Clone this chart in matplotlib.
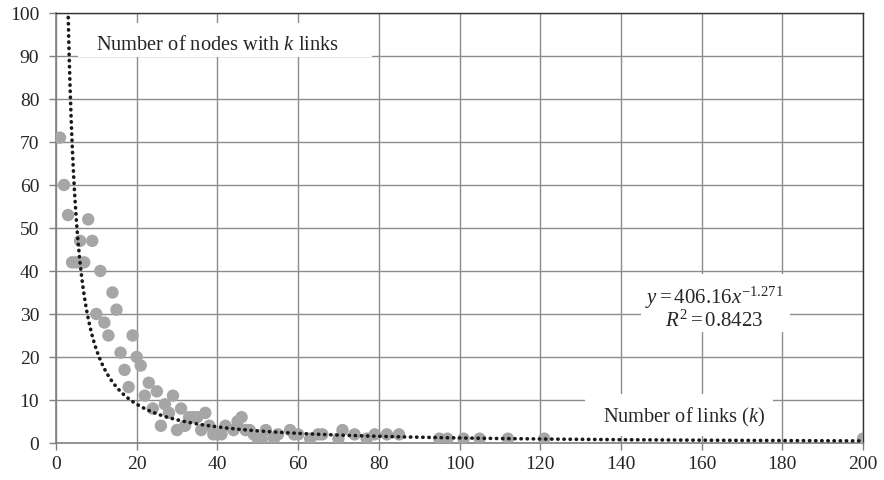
import matplotlib
matplotlib.use('Agg')
import matplotlib.pyplot as plt
import numpy as np

plt.rcParams['font.family'] = ['Liberation Serif', 'DejaVu Serif']
plt.rcParams['mathtext.fontset'] = 'custom'
plt.rcParams['mathtext.rm'] = 'Liberation Serif'
plt.rcParams['mathtext.it'] = 'Liberation Serif:italic'

# number of links k and number of nodes with k links
links = [1, 2, 3, 4, 5, 6, 7, 8, 9, 10, 11, 12, 13, 14, 15, 16, 17, 18, 19, 20,
         21, 22, 23, 24, 25, 26, 27, 28, 29, 30, 31, 32, 33, 34, 35, 36, 37, 38, 39, 40,
         41, 42, 44, 45, 46, 47, 48, 49, 50, 51, 52, 54, 55, 58, 59, 60, 63, 65, 66, 70,
         71, 74, 77, 79, 82, 85, 95, 97, 101, 105, 112, 121, 200]
nodes = [71, 60, 53, 42, 42, 47, 42, 52, 47, 30, 40, 28, 25, 35, 31, 21, 17, 13, 25, 20,
         18, 11, 14, 8, 12, 4, 9, 7, 11, 3, 8, 4, 6, 6, 6, 3, 7, 4, 2, 2,
         2, 4, 3, 5, 6, 3, 3, 2, 1, 1, 3, 1, 2, 3, 2, 2, 1, 2, 2, 1,
         3, 2, 1, 2, 2, 2, 1, 1, 1, 1, 1, 1, 1]

# power-law trend line y = a * x^b
coef_a = 406.16
coef_b = -1.271
r2 = 0.8423

fig = plt.figure(figsize=(8.84, 4.81), dpi=100)
ax = fig.add_axes([0.0633, 0.077, 0.913, 0.894])

ax.scatter(links, nodes, s=80, color='#a6a6a6', edgecolors='none', zorder=3)

xt = np.linspace(1, 200, 2000)
ax.plot(xt, coef_a * xt ** coef_b, color='#1a1a1a', linestyle=(0, (0.1, 1.6)),
        linewidth=2.6, dash_capstyle='round', zorder=4)

ax.set_xlim(0, 200)
ax.set_ylim(0, 100)
ax.set_xticks(np.arange(0, 201, 20))
ax.set_yticks(np.arange(0, 101, 10))
ax.grid(True, color='#8c8c8c', linewidth=1.0)
ax.set_axisbelow(True)
ax.tick_params(direction='out', length=5, width=1, color='#808080',
               labelsize=14, labelcolor='#262626')
ax.tick_params(axis='y', pad=7)
ax.tick_params(axis='x', pad=4)
for side in ['left', 'bottom']:
    ax.spines[side].set_color('#808080')
    ax.spines[side].set_linewidth(1.2)
for side in ['top', 'right']:
    ax.spines[side].set_color('#333333')
    ax.spines[side].set_linewidth(1.0)

# white boxes behind the labels (they hide the grid)
for x0, x1, y0, y1 in [(5.4, 78.3, 89.8, 97.7), (131.1, 177.7, 1.6, 11.4), (145.0, 182.0, 25.8, 39.3)]:
    ax.add_patch(plt.Rectangle((x0, y0), x1 - x0, y1 - y0, facecolor='white',
                               edgecolor='none', zorder=2.5))

ax.text(40, 92.7, 'Number of nodes with $k$ links', ha='center', va='center',
        fontsize=14.7, color='#262626', zorder=5)
ax.text(155.6, 6.2, 'Number of links ($k$)', ha='center', va='center',
        fontsize=14.7, color='#262626', zorder=5)
ax.text(163.1, 33.9, '$y = %.2fx^{%.3f}$' % (coef_a, coef_b), ha='center', va='center',
        fontsize=15, color='#262626', zorder=5)
ax.text(163.1, 28.6, '$R^{2} = %.4f$' % r2, ha='center', va='center',
        fontsize=15, color='#262626', zorder=5)

fig.savefig('out.png', dpi=100)
